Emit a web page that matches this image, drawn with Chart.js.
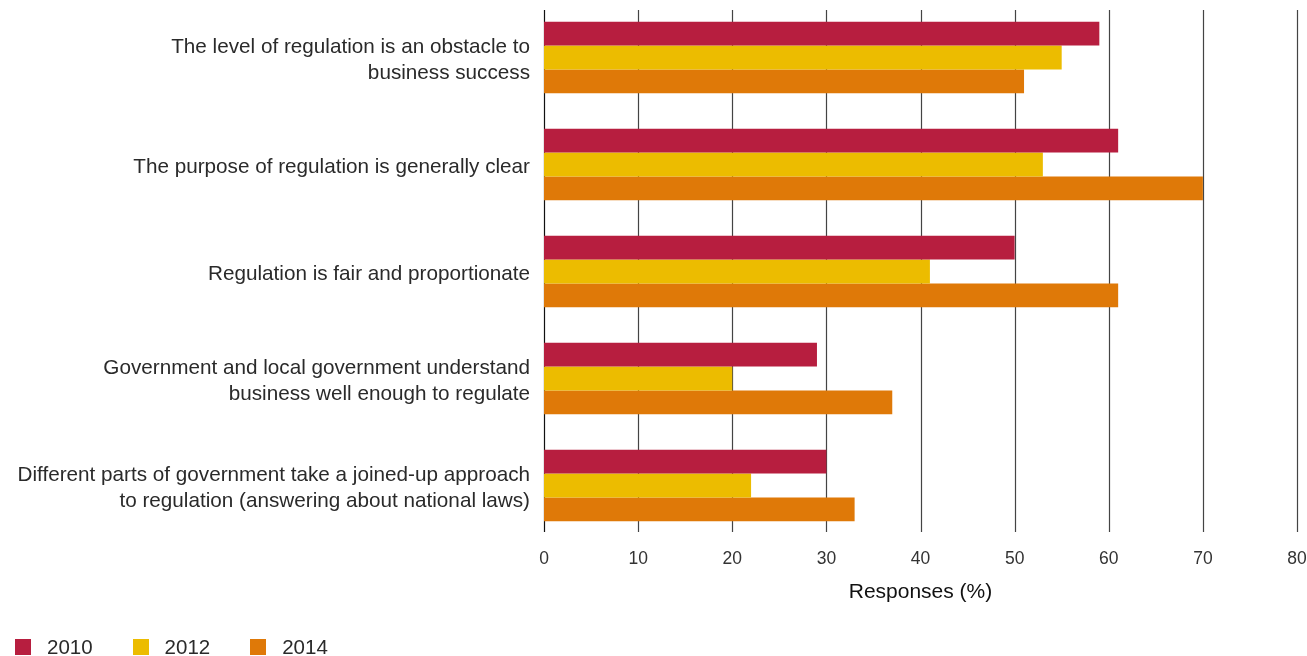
<!DOCTYPE html>
<html>
<head>
<meta charset="utf-8">
<script src="https://cdn.jsdelivr.net/npm/chart.js@4/dist/chart.umd.min.js"></script>
<style>
  html, body { margin: 0; padding: 0; background: #fff; }
  #wrap { position: relative; width: 1307px; height: 656px; }
  #legend { position: absolute; left: 15px; top: 635px; display: flex; font-family: "Liberation Sans", Arial, sans-serif; font-size: 20.5px; color: #2a2a2a; }
  .li { display: flex; align-items: center; margin-right: 40px; }
  .sw { width: 16px; height: 16px; margin-right: 16px; }
</style>
</head>
<body>
<div id="wrap">
  <canvas id="c" width="1307" height="656"></canvas>
  <div id="legend"></div>
</div>
<script>
const categories = [
  ["The level of regulation is an obstacle to", "business success"],
  ["The purpose of regulation is generally clear"],
  ["Regulation is fair and proportionate"],
  ["Government and local government understand", "business well enough to regulate"],
  ["Different parts of government take a joined-up approach", "to regulation (answering about national laws)"]
];
const seriesNames = ["2010", "2012", "2014"];
const values2010 = [59, 61, 50, 29, 30];
const values2012 = [55, 53, 41, 20, 22];
const values2014 = [51, 70, 61, 37, 33];
const seriesColors = ["#B71E3F", "#ECBC00", "#DF7908"];
const xTicks = [0, 10, 20, 30, 40, 50, 60, 70, 80];
const axisTitle = "Responses (%)";

const FONT = "'Liberation Sans', Arial, sans-serif";

const gridPlugin = {
  id: 'customGrid',
  beforeDatasetsDraw(chart) {
    const ctx = chart.ctx;
    const xs = chart.scales.x;
    const area = chart.chartArea;
    const top = area.top + 6, bottom = area.bottom - 7;
    ctx.save();
    xs.ticks.forEach((t) => {
      const x = Math.round(xs.getPixelForValue(t.value)) + 0.5;
      ctx.beginPath();
      ctx.lineWidth = 1.2;
      ctx.strokeStyle = t.value === 0 ? '#111111' : '#444444';
      ctx.moveTo(x, top);
      ctx.lineTo(x, bottom);
      ctx.stroke();
    });
    ctx.restore();
  }
};

const chart = new Chart(document.getElementById('c'), {
  type: 'bar',
  data: {
    labels: categories,
    datasets: [
      { label: seriesNames[0], data: values2010, backgroundColor: seriesColors[0] },
      { label: seriesNames[1], data: values2012, backgroundColor: seriesColors[1] },
      { label: seriesNames[2], data: values2014, backgroundColor: seriesColors[2] }
    ]
  },
  options: {
    indexAxis: 'y',
    responsive: false,
    animation: false,
    devicePixelRatio: 1,
    layout: { padding: { top: 4, right: 10, left: 0, bottom: 0 } },
    datasets: { bar: { categoryPercentage: 0.668, barPercentage: 1.0, borderWidth: 0 } },
    plugins: { legend: { display: false }, tooltip: { enabled: false } },
    scales: {
      x: {
        min: 0, max: 80,
        afterBuildTicks(scale) { scale.ticks = xTicks.map(v => ({ value: v })); },
        afterFit(scale) { scale.height = 117; scale.paddingLeft = 0; scale.paddingRight = 0; },
        grid: { display: false, drawTicks: false },
        border: { display: false },
        ticks: { padding: 10, color: '#333', font: { family: FONT, size: 17.5 } },
        title: { display: true, text: axisTitle, color: '#111', font: { family: FONT, size: 21 }, padding: { top: 0, bottom: 51 } }
      },
      y: {
        afterFit(scale) { scale.width = 544; scale.paddingTop = 0; scale.paddingBottom = 0; },
        grid: { display: false, drawTicks: false },
        border: { display: false },
        ticks: { padding: 14, labelOffset: 3, color: '#2a2a2a', font: { family: FONT, size: 20.7, lineHeight: 1.27 } }
      }
    }
  },
  plugins: [gridPlugin]
});

const legend = document.getElementById('legend');
chart.data.datasets.forEach(ds => {
  const li = document.createElement('div'); li.className = 'li';
  const sw = document.createElement('div'); sw.className = 'sw'; sw.style.background = ds.backgroundColor;
  const tx = document.createElement('span'); tx.textContent = ds.label;
  li.appendChild(sw); li.appendChild(tx); legend.appendChild(li);
});
</script>
</body>
</html>
